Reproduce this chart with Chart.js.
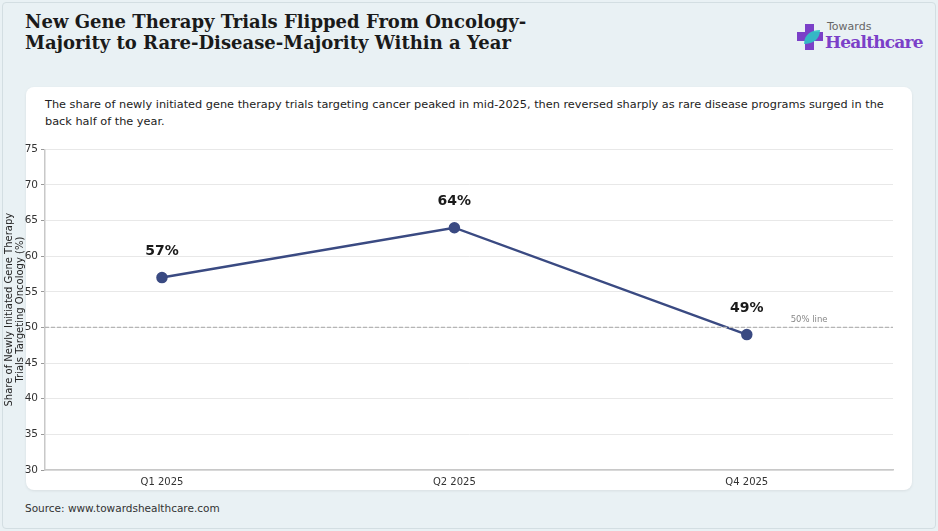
<!DOCTYPE html>
<html>
<head>
<meta charset="utf-8">
<script src="https://cdn.jsdelivr.net/npm/chart.js@4.4.1/dist/chart.umd.min.js"></script>
<style>
  html, body { margin: 0; padding: 0; }
  body { width: 938px; height: 531px; background: #e9f1f4; position: relative; overflow: hidden; font-family: "DejaVu Sans", sans-serif; }
  .frame { position: absolute; left: 2px; top: 2px; width: 932px; height: 525px; border: 1px solid #d3dee2; border-radius: 4px; }
  h1 { position: absolute; left: 25px; top: 11px; margin: 0; font-family: "DejaVu Serif", serif; font-weight: bold; font-size: 18px; line-height: 21px; color: #1a1a1a; }
  .card { position: absolute; left: 26px; top: 87px; width: 886px; height: 403px; background: #fff; border-radius: 8px; box-shadow: 0 1px 3px rgba(0,0,0,0.08); }
  .sub { position: absolute; left: 45px; top: 97px; width: 845px; font-size: 11.3px; line-height: 16.5px; color: #222; }
  .src { position: absolute; left: 25px; top: 502px; font-size: 10.5px; color: #333; }
  .logo { position: absolute; left: 796px; top: 18px; }
  .logo .t1 { position: absolute; left: 31px; top: 2px; font-family: "DejaVu Sans", sans-serif; font-size: 11px; color: #666; }
  .logo .t2 { position: absolute; left: 29px; top: 14px; font-family: "DejaVu Serif", serif; font-weight: bold; font-size: 17px; color: #7b40c8; letter-spacing: -0.8px; white-space: nowrap; }
  #wrap { position: absolute; left: 0; top: 140px; width: 912px; height: 350px; }
</style>
</head>
<body>
<div class="frame"></div>
<h1>New Gene Therapy Trials Flipped From Oncology-<br>Majority to Rare-Disease-Majority Within a Year</h1>
<div class="logo">
  <svg width="30" height="30" viewBox="0 0 30 30" style="position:absolute;left:0;top:4px">
    <path d="M9 2 h9 v8 h9 v9 h-9 v9 h-9 v-9 h-8 v-9 h8 z" fill="#7b40c8"/>
    <path d="M8 22 C8 12 16 8 24 8 C24 17 17 22 8 22 z" fill="#2ec4c4" opacity="0.9"/>
  </svg>
  <div class="t1">Towards</div>
  <div class="t2">Healthcare</div>
</div>
<div class="card"></div>
<div class="sub">The share of newly initiated gene therapy trials targeting cancer peaked in mid-2025, then reversed sharply as rare disease programs surged in the back half of the year.</div>
<div id="wrap"><canvas id="c"></canvas></div>
<div class="src">Source: www.towardshealthcare.com</div>
<script>
const quarters = ['Q1 2025', 'Q2 2025', 'Q4 2025'];
const oncologyShare = [57, 64, 49];
const refLevel = 50;
const yTicks = [30, 35, 40, 45, 50, 55, 60, 65, 70, 75];

const points = oncologyShare.map((v, i) => ({ x: i, y: v }));
const xMin = -0.4, xMax = 2.5;

const labelPlugin = {
  id: 'labels',
  afterDatasetsDraw(chart) {
    const ctx = chart.ctx;
    const meta = chart.getDatasetMeta(1);
    ctx.save();
    ctx.font = 'bold 14px "DejaVu Sans"';
    ctx.fillStyle = '#1a1a1a';
    ctx.textAlign = 'center';
    ctx.textBaseline = 'middle';
    meta.data.forEach((pt, i) => {
      ctx.fillText(oncologyShare[i] + '%', pt.x, pt.y - 26);
    });
    const y = chart.scales.y.getPixelForValue(refLevel);
    ctx.font = '8.5px "DejaVu Sans"';
    ctx.fillStyle = '#888';
    ctx.textAlign = 'left';
    ctx.fillText('50% line', chart.scales.x.getPixelForValue(2.15), y - 8);
    ctx.restore();
  }
};

new Chart(document.getElementById('c').getContext('2d'), {
  type: 'line',
  data: {
    datasets: [
      {
        label: '50% line',
        data: [{ x: xMin, y: refLevel }, { x: xMax, y: refLevel }],
        borderColor: '#b5b5b5',
        borderWidth: 1.2,
        borderDash: [4, 2],
        pointRadius: 0
      },
      {
        label: 'Oncology share',
        data: points,
        borderColor: '#3a4a82',
        backgroundColor: '#3a4a82',
        borderWidth: 2.5,
        pointRadius: 4.5,
        pointHoverRadius: 4.5
      }
    ]
  },
  options: {
    responsive: true,
    maintainAspectRatio: false,
    animation: false,
    layout: { padding: { top: 8, right: 19 } },
    plugins: { legend: { display: false }, tooltip: { enabled: false } },
    scales: {
      x: {
        type: 'linear',
        min: xMin,
        max: xMax,
        afterBuildTicks: s => { s.ticks = quarters.map((q, i) => ({ value: i })); },
        afterFit: s => { s.height = 20; },
        grid: { display: false, drawTicks: true, tickLength: 4, tickColor: '#999' },
        border: { color: '#c8c8c8', width: 1.5 },
        ticks: {
          callback: v => quarters[v],
          font: { family: 'DejaVu Sans', size: 10 },
          color: '#333',
          padding: 2,
          maxRotation: 0
        }
      },
      y: {
        min: 30,
        max: 75,
        afterBuildTicks: s => { s.ticks = yTicks.map(v => ({ value: v })); },
        afterFit: s => { s.width = 45; },
        grid: { color: '#e8e8e8', tickLength: 4, tickColor: '#999', drawTicks: true },
        border: { color: '#c8c8c8', width: 1.5 },
        ticks: {
          font: { family: 'DejaVu Sans', size: 10.5 },
          color: '#333',
          padding: 3
        },
        title: {
          display: true,
          text: ['Share of Newly Initiated Gene Therapy', 'Trials Targeting Oncology (%)'],
          font: { family: 'DejaVu Sans', size: 10, lineHeight: 1.1 },
          color: '#222',
          padding: { top: 4, bottom: 0 }
        }
      }
    }
  },
  plugins: [labelPlugin]
});
</script>
</body>
</html>
